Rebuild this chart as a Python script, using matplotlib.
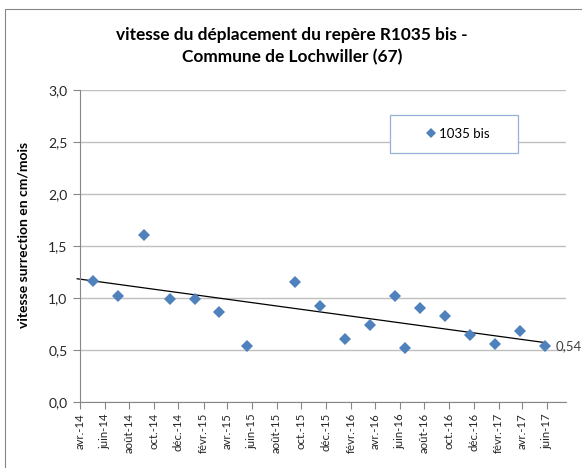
import numpy as np
import matplotlib
matplotlib.use("Agg")
import matplotlib.pyplot as plt
import matplotlib.dates as mdates
from matplotlib.patches import Rectangle
from datetime import datetime

plt.rcParams['font.family'] = ['Lato', 'DejaVu Sans']

dates = ["2014-05-04", "2014-07-03", "2014-09-06", "2014-11-10", "2015-01-11",
         "2015-03-12", "2015-05-19", "2015-09-15", "2015-11-17", "2016-01-17",
         "2016-03-19", "2016-05-21", "2016-06-14", "2016-07-21", "2016-09-21",
         "2016-11-23", "2017-01-23", "2017-03-25", "2017-05-27"]
vitesse = [1.16, 1.02, 1.61, 0.99, 0.99, 0.87, 0.54, 1.15, 0.92, 0.61,
           0.74, 1.02, 0.52, 0.90, 0.83, 0.64, 0.56, 0.68, 0.54]

mois_fr = {1: "janv.", 2: "févr.", 3: "mars", 4: "avr.", 5: "mai", 6: "juin",
           7: "juil.", 8: "août", 9: "sept.", 10: "oct.", 11: "nov.", 12: "déc."}

serie = "1035 bis"
titre = "vitesse du déplacement du repère R1035 bis -\nCommune de Lochwiller (67)"
ylabel = "vitesse surrection en cm/mois"

BLUE = "#4F81BD"
GRID = "#BFBFBF"
AXC = "#868686"

x = mdates.date2num([datetime.strptime(d, "%Y-%m-%d") for d in dates])
y = np.array(vitesse)

W, H = 582, 468
fig = plt.figure(figsize=(W / 100, H / 100), dpi=100)
ax = fig.add_axes([80 / W, 1 - 402 / H, (566 - 80) / W, (402 - 90) / H])

# outer chart frame (cut at right / bottom as in the original)
fig.patches.append(Rectangle((5 / W, -0.1), 1.2, 1 - 9 / H + 0.1, transform=fig.transFigure,
                             fill=False, edgecolor=AXC, lw=0.8, zorder=-1))

xmin = mdates.date2num(datetime(2014, 4, 1))
xmax = mdates.date2num(datetime(2017, 7, 18))

ax.plot(x, y, "D", color=BLUE, markersize=6, markeredgewidth=0, zorder=3, label=serie)

# linear trend line
a, b = np.polyfit(x, y, 1)
xt = np.array([xmin - 7, x[-1]])
ax.plot(xt, a * xt + b, color="black", lw=0.9, zorder=2, clip_on=False)

ax.annotate(f"{vitesse[-1]:.2f}".replace(".", ","), (x[-1], y[-1]), xytext=(8, 0),
            textcoords="offset points", va="center", ha="left", fontsize=9.5, color="#404040")

ax.set_xlim(xmin, xmax)
ax.set_ylim(0, 3.0)
ax.set_yticks(np.arange(0, 3.01, 0.5))
ax.set_yticklabels([f"{v:.1f}".replace(".", ",") for v in np.arange(0, 3.01, 0.5)])
ax.yaxis.grid(True, color=GRID, lw=1)
ax.set_axisbelow(True)

ax.xaxis.set_major_locator(mdates.MonthLocator(bymonth=[2, 4, 6, 8, 10, 12]))
ax.xaxis.set_major_formatter(plt.FuncFormatter(
    lambda v, p: f"{mois_fr[mdates.num2date(v).month]}-{mdates.num2date(v).strftime('%y')}"))
plt.setp(ax.get_xticklabels(), rotation=90)

for s in ["top", "right"]:
    ax.spines[s].set_visible(False)
for s in ["left", "bottom"]:
    ax.spines[s].set_color(AXC)
    ax.spines[s].set_linewidth(0.8)
ax.tick_params(axis="both", colors=AXC, length=5, width=0.8, labelcolor="#262626")
ax.tick_params(axis="y", labelsize=10, pad=4)
ax.tick_params(axis="x", labelsize=8.2, pad=3)

ax.set_ylabel(ylabel, fontsize=10, fontweight="bold")
ax.yaxis.set_label_coords(24 / W, 1 - 235 / H, transform=fig.transFigure)
ax.yaxis.label.set_va("center")
fig.text(292 / W, 1 - 46 / H, titre, ha="center", va="center", fontsize=12.4,
         fontweight="bold", linespacing=1.4)

# legend box
ax.add_patch(Rectangle((390 / W, 1 - 153 / H), 128 / W, 38 / H, transform=fig.transFigure,
                       facecolor="white", edgecolor="#95B3D7", lw=0.9, zorder=5, clip_on=False))
leg = ax.legend(loc="center", bbox_to_anchor=(457 / W, 1 - 134 / H), bbox_transform=fig.transFigure,
                frameon=False, fontsize=9.5, handletextpad=0.1, handlelength=1.0, markerscale=0.85)
leg.set_zorder(6)

fig.savefig("out.png", dpi=100)
